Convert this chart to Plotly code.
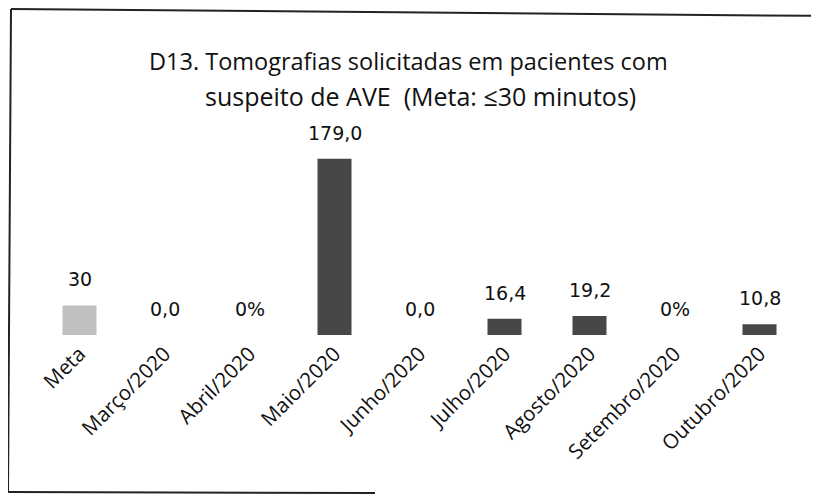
import plotly.graph_objects as go

categories = ["Meta", "Março/2020", "Abril/2020", "Maio/2020", "Junho/2020",
              "Julho/2020", "Agosto/2020", "Setembro/2020", "Outubro/2020"]
values = [30, 0.0, 0, 179.0, 0.0, 16.4, 19.2, 0, 10.8]
labels = ["30", "0,0", "0%", "179,0", "0,0", "16,4", "19,2", "0%", "10,8"]
bar_colors = ["#c0c0c0"] + ["#474747"] * 8
title_lines = ["D13. Tomografias solicitadas em pacientes com",
               "suspeito de AVE  (Meta: ≤30 minutos)"]

OFF = 8  # browser body margin
W, H = 819, 498
PW, PH = 765, 197
L, T = 37 - OFF, 138 - OFF
R, B = W - L - PW, H - T - PH


def px(x):
    return (x - OFF - L) / PW


def py(y):
    return (T + PH - (y - OFF)) / PH


fig = go.Figure()
fig.add_trace(go.Bar(
    x=categories, y=values,
    marker=dict(color=bar_colors, line=dict(width=0)),
    width=0.4, hoverinfo="skip",
))

for c, v, t in zip(categories, values, labels):
    fig.add_annotation(x=c, y=v, text=t, showarrow=False, yshift=26,
                       xanchor="center", yanchor="middle",
                       font=dict(family="DejaVu Sans", size=19, color="#111111"))

fig.add_annotation(xref="paper", yref="paper", x=px(408), y=py(61), text=title_lines[0],
                   showarrow=False, xanchor="center", yanchor="middle",
                   font=dict(family="Open Sans", size=23.5, color="#111111"))
fig.add_annotation(xref="paper", yref="paper", x=px(420), y=py(96), text=title_lines[1],
                   showarrow=False, xanchor="center", yanchor="middle",
                   font=dict(family="Open Sans", size=25, color="#111111"))

# scanned frame lines
fig.add_shape(type="line", xref="paper", yref="paper", x0=px(11), y0=py(9), x1=px(830), y1=py(16),
              line=dict(color="#222222", width=2))
fig.add_shape(type="line", xref="paper", yref="paper", x0=px(11), y0=py(9), x1=px(8), y1=py(492),
              line=dict(color="#222222", width=2))
fig.add_shape(type="line", xref="paper", yref="paper", x0=px(7), y0=py(492), x1=px(375), y1=py(493),
              line=dict(color="#222222", width=2))

fig.update_layout(
    width=W, height=H,
    margin=dict(l=L, r=R, t=T, b=B),
    paper_bgcolor="white", plot_bgcolor="white",
    showlegend=False,
    xaxis=dict(showline=False, showgrid=False, ticks="", tickangle=-45,
               tickfont=dict(family="Open Sans", size=20.5, color="#111111"),
               ticklabelstandoff=2),
    yaxis=dict(range=[0, 200], visible=False, showgrid=False),
)

fig.write_html("out.html")
